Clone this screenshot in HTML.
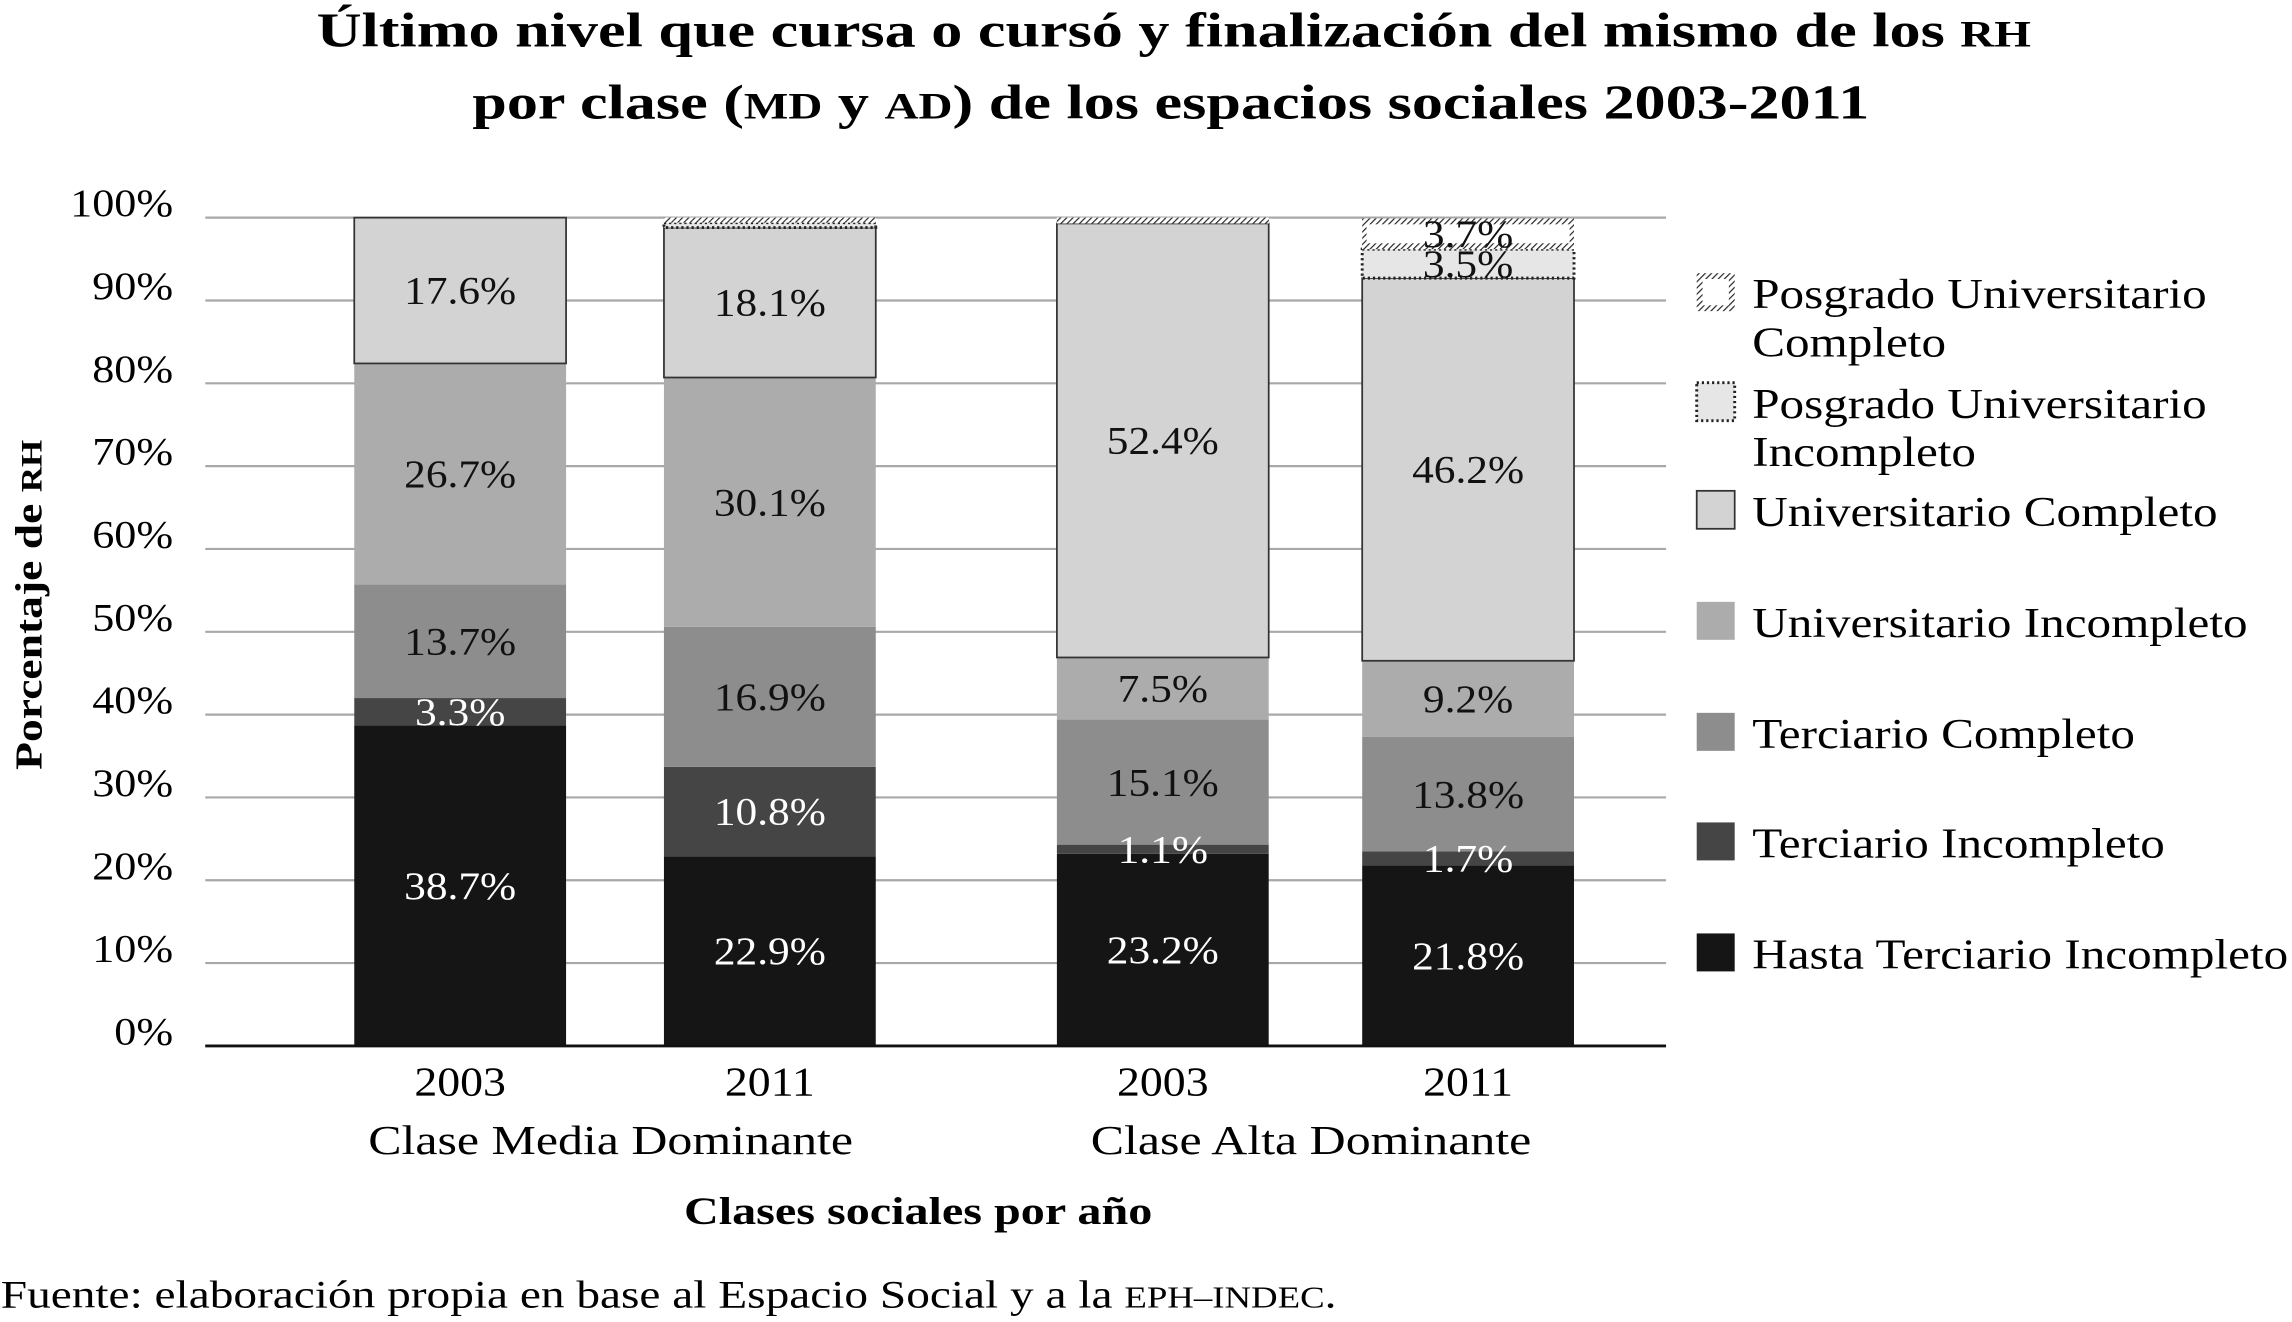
<!DOCTYPE html>
<html><head><meta charset="utf-8">
<style>
html,body{margin:0;padding:0;background:#fff}
svg{display:block}
text{font-family:"Liberation Serif",serif}
</style></head>
<body>
<svg id="chart" width="2292" height="1322" viewBox="0 0 1568 905" xmlns="http://www.w3.org/2000/svg">
<defs>
<pattern id="hatch" width="3" height="3" patternUnits="userSpaceOnUse" patternTransform="rotate(45)">
<rect width="3" height="3" fill="#fff"/><line x1="0" y1="0" x2="0" y2="3" stroke="#222" stroke-width="1.6"/>
</pattern>
</defs>
<g>
<text class="st" data-f="1.29" x="803" y="32" text-anchor="middle" font-size="33" font-weight="bold">Último nivel que cursa o cursó y finalización del mismo de los <tspan font-size="25">RH</tspan></text>
<text class="st" data-f="1.29" x="801" y="81" text-anchor="middle" font-size="33" font-weight="bold">por clase (<tspan font-size="25">MD</tspan> y <tspan font-size="25">AD</tspan>) de los espacios sociales 2003-2011</text>
</g>
<g id="grid"></g>
<g id="bars"></g>
<g id="labels"></g>
<g id="axes"></g>
<g id="legend"></g>
<text class="st" data-f="1.2" transform="translate(28,414) rotate(-90)" text-anchor="middle" font-size="26" font-weight="bold">Porcentaje de <tspan font-size="20">RH</tspan></text>
<text class="st" data-f="1.22" x="628" y="838" text-anchor="middle" font-size="27" font-weight="bold">Clases sociales por año</text>
<text class="st" data-f="1.2" x="0" y="895" font-size="27">Fuente: elaboración propia en base al Espacio Social y a la <tspan font-size="21">EPH–INDEC</tspan>.</text>
</svg>
<script>
const categories = ["2003","2011","2003","2011"];
const groups = ["Clase Media Dominante","Clase Alta Dominante"];
const seriesNames = ["Hasta Terciario Incompleto","Terciario Incompleto","Terciario Completo","Universitario Incompleto","Universitario Completo","Posgrado Universitario Incompleto","Posgrado Universitario Completo"];
const hastaTerciarioIncompleto = [38.7,22.9,23.2,21.8];
const terciarioIncompleto = [3.3,10.8,1.1,1.7];
const terciarioCompleto = [13.7,16.9,15.1,13.8];
const universitarioIncompleto = [26.7,30.1,7.5,9.2];
const universitarioCompleto = [17.6,18.1,52.4,46.2];
const posgradoIncompleto = [0,0.6,0,3.5];
const posgradoCompleto = [0,0.6,0.7,3.7];
const yTicks = [0,10,20,30,40,50,60,70,80,90,100];

const series = [hastaTerciarioIncompleto,terciarioIncompleto,terciarioCompleto,universitarioIncompleto,universitarioCompleto,posgradoIncompleto,posgradoCompleto];
const fills = ["#151515","#454545","#8d8d8d","#acacac","#d3d3d3","#e6e6e6","#fff"];
const textColors = ["#fff","#fff","#111","#111","#111","#111","#111"];
const NS="http://www.w3.org/2000/svg";
const y0=716, y1=149, plotL=140, plotR=1140;
const y = v => y0 - (v/100)*(y0-y1);
const barX = [242,454,723,932], barW=145;
function mk(tag, attrs, parent){const e=document.createElementNS(NS,tag);for(const k in attrs)e.setAttribute(k,attrs[k]);parent.appendChild(e);return e;}
const grid=document.getElementById('grid'), bars=document.getElementById('bars'), labels=document.getElementById('labels'), axes=document.getElementById('axes'), legend=document.getElementById('legend');
yTicks.forEach(t=>{
  const l=mk('line',{x1:plotL,x2:plotR,y1:y(t),y2:y(t),stroke:'#a8a8a8','stroke-width':1.5},grid);
  
  
  const tx=mk('text',{x:118,y:y(t)-1,'text-anchor':'end','font-size':27,class:'st','data-f':'1.12'},axes);
  tx.textContent=t+'%';
  
  
});
const ax=mk('line',{x1:plotL,x2:plotR,y1:y0,y2:y0,stroke:'#111','stroke-width':2},axes);


categories.forEach((c,i)=>{
  let cum=0;
  series.forEach((s,j)=>{
    const v=s[i]; if(v<=0){return;}
    const top=y(cum+v), bot=y(cum);
    let attrs={x:barX[i],y:top,width:barW,height:bot-top,fill:fills[j]};
    if(j===4) Object.assign(attrs,{stroke:'#333','stroke-width':1.2});
    if(j===5) Object.assign(attrs,{stroke:'#222','stroke-width':2,'stroke-dasharray':'1.5 2'});
    const r=mk('rect',attrs,bars);
    
    
    if(j===6){
      const h=Math.min(4,(bot-top)/2);
      mk('rect',{x:barX[i],y:top,width:barW,height:h,fill:'url(#hatch)'},bars);
      mk('rect',{x:barX[i],y:bot-h,width:barW,height:h,fill:'url(#hatch)'},bars);
      mk('rect',{x:barX[i],y:top,width:3,height:bot-top,fill:'url(#hatch)'},bars);
      mk('rect',{x:barX[i]+barW-3,y:top,width:3,height:bot-top,fill:'url(#hatch)'},bars);
    }
    if(v>=1){
      const t=mk('text',{x:barX[i]+barW/2,y:(top+bot)/2+9,'text-anchor':'middle','font-size':27,fill:textColors[j],class:'st','data-f':'1.1'},labels);
      t.textContent=v.toFixed(1)+'%';
      
      
    }
    cum+=v;
  });
  const ct=mk('text',{x:barX[i]+barW/2,y:750,'text-anchor':'middle','font-size':28,class:'st','data-f':'1.12'},axes);
  ct.textContent=c;
  
  
});
groups.forEach((g,k)=>{
  const cx=(barX[k*2]+barX[k*2+1]+barW)/2;
  const t=mk('text',{x:cx-3,y:790,'text-anchor':'middle','font-size':28,class:'st','data-f':'1.22'},axes);
  t.textContent=g;
  
  
});
const legendRows=[{i:6,y:201,l:["Posgrado Universitario","Completo"]},{i:5,y:276,l:["Posgrado Universitario","Incompleto"]},{i:4,y:350,l:["Universitario Completo"]},{i:3,y:426,l:["Universitario Incompleto"]},{i:2,y:502,l:["Terciario Completo"]},{i:1,y:577,l:["Terciario Incompleto"]},{i:0,y:653,l:["Hasta Terciario Incompleto"]}];
legendRows.forEach(r=>{
  const g=mk('g',{},legend);
  
  
  const sx=1161, sy=r.y-14, s=26;
  if(r.i===6){
    mk('rect',{x:sx,y:sy,width:s,height:s,fill:'url(#hatch)'},g);
    mk('rect',{x:sx+4,y:sy+4,width:s-8,height:s-8,fill:'#fff'},g);
  } else if(r.i===5){
    mk('rect',{x:sx,y:sy,width:s,height:s,fill:fills[5],stroke:'#222','stroke-width':2,'stroke-dasharray':'1.5 2'},g);
  } else {
    mk('rect',{x:sx,y:sy,width:s,height:s,fill:fills[r.i],stroke:r.i===4?'#333':'none','stroke-width':1.2},g);
  }
  r.l.forEach((line,k)=>{
    const t=mk('text',{x:1199,y:r.y+10+k*33,'font-size':29,class:'st','data-f':'1.16'},g);
    t.textContent=line;
  });
});
document.querySelectorAll('text.st').forEach(t=>{
  const f=parseFloat(t.getAttribute('data-f'));
  const w=t.getComputedTextLength();
  t.setAttribute('textLength',(w*f).toFixed(1));
  t.setAttribute('lengthAdjust','spacingAndGlyphs');
});
</script>
</body></html>
